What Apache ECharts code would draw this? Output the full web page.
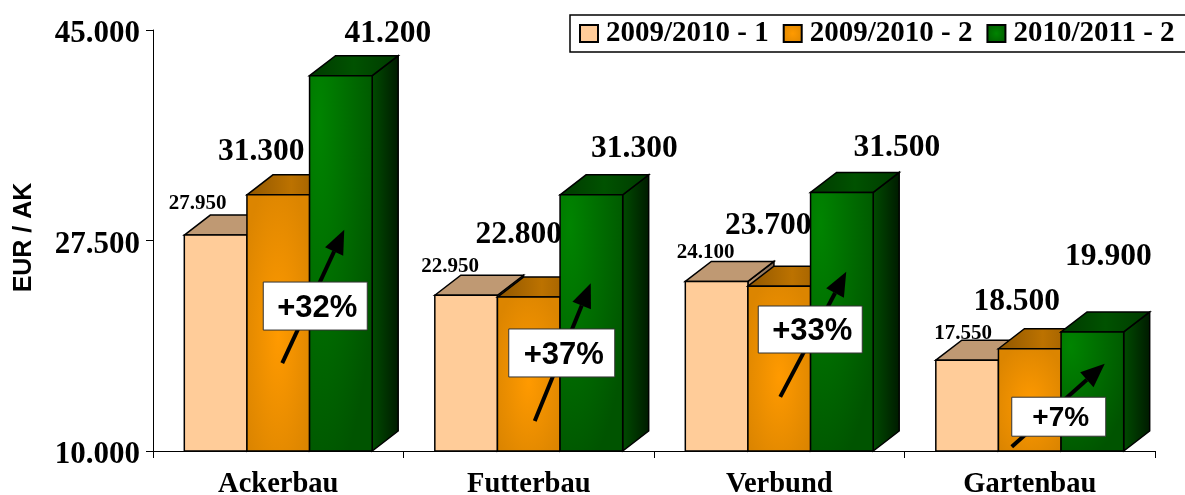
<!DOCTYPE html>
<html>
<head>
    <meta charset="utf-8">
    <title>EUR / AK</title>
    <script src="https://cdn.jsdelivr.net/npm/echarts@6/dist/echarts.min.js"></script>
    <style>
        html, body { margin: 0; padding: 0; background: #fff; }
        #chart { width: 1185px; height: 495px; }
    </style>
</head>
<body>
<div id="chart"></div>
<script>
    // data
    var categories = ['Ackerbau', 'Futterbau', 'Verbund', 'Gartenbau'];
    var yTicks = [10000, 27500, 45000];
    var seriesNames = ['2009/2010 - 1', '2009/2010 - 2', '2010/2011 - 2'];
    var values1 = [27950, 22950, 24100, 17550];
    var values2 = [31300, 22800, 23700, 18500];
    var values3 = [41200, 31300, 31500, 19900];

    // growth callouts: text, arrow start / tip and box centre on the value axis
    var growthLabels = ['+32%', '+37%', '+33%', '+7%'];
    var arrowFrom = [17300, 12500, 14500, 10350];
    var arrowTo = [28400, 23950, 24900, 17250];
    var boxValue = [22050, 18150, 20100, 12850];

    // layout tweaks, px relative to the bar or the category centre
    var labelShift = [
        [[-18, 32], [-16, 29], [-11, 29], [-4, 27]],
        [[-17, 43], [-10, 62], [-11, 60], [-13, 47]],
        [[47, 42], [43, 46], [55, 45], [16, 75]]
    ];
    var labelSize = [21, 31.5, 31.5];
    var arrowX = [[4, 66], [6, 62], [1, 67], [-18, 75]];
    var boxX = [37, 33, 31, 29];
    var boxSize = [[104, 48], [106, 48], [104, 47], [94, 39]];
    var boxFont = [31, 31, 31, 28];

    var depthX = 26, depthY = 20;
    var serif = '"Liberation Serif"', sans = '"Liberation Sans"';

    function radial(x, y, r, inner, outer) {
        return { type: 'radial', x: x, y: y, r: r, colorStops: [{ offset: 0, color: inner }, { offset: 1, color: outer }] };
    }
    function linear(stops) {
        var list = stops.map(function (c, i) { return { offset: i / (stops.length - 1), color: c }; });
        return { type: 'linear', x: 0, y: 0, x2: 1, y2: 0, colorStops: list };
    }

    var fronts = [
        '#FFCC99',
        radial(0.5, 0.55, 0.62, '#FF9A00', '#DC8500'),
        radial(0.15, 0.12, 1.0, '#008400', '#005400')
    ];
    var tops = [
        '#BF9973',
        linear(['#8F5600', '#BC7200', '#8F5600']),
        linear(['#003A00', '#005200', '#003A00'])
    ];
    var sides = [
        linear(['#BF9973', '#7F6650']),
        linear(['#8F5600', '#4F2F00']),
        linear(['#004C00', '#001A00'])
    ];
    var swatches = [
        '#FFCC99',
        radial(0.5, 0.5, 0.7, '#FF9A00', '#DC8500'),
        radial(0.5, 0.5, 0.7, '#008400', '#005400')
    ];

    function face(points, fill) {
        return {
            type: 'polygon',
            shape: { points: points },
            style: { fill: fill, stroke: '#000', lineWidth: 1.5 }
        };
    }

    function formatNumber(v) {
        return String(v).replace(/(\d)(\d{3})$/, '$1.$2');
    }

    function barRenderer(s) {
        return function (params, api) {
            var i = params.dataIndex;
            var value = api.value(1);
            var centre = api.coord([api.value(0), value]);
            var base = api.coord([api.value(0), yTicks[0]]);
            var w = api.size([1, 0])[0] * 0.25;
            var x = centre[0] + (s - 1) * w - w / 2;
            var y = centre[1];
            var h = base[1] - y;
            var shift = labelShift[s][i];
            return {
                type: 'group',
                children: [
                    face([[x + w, y], [x + w + depthX, y - depthY], [x + w + depthX, base[1] - depthY], [x + w, base[1]]], sides[s]),
                    face([[x, y], [x + depthX, y - depthY], [x + w + depthX, y - depthY], [x + w, y]], tops[s]),
                    // square scaled to bar height, so the gradient stretches with it
                    {
                        type: 'rect',
                        x: x,
                        y: y,
                        scaleY: h / w,
                        shape: { x: 0, y: 0, width: w, height: w },
                        style: { fill: fronts[s] }
                    },
                    {
                        type: 'rect',
                        shape: { x: x, y: y, width: w, height: h },
                        style: { fill: 'none', stroke: '#000', lineWidth: 1.5 }
                    },
                    {
                        type: 'text',
                        x: x + w / 2 + shift[0],
                        y: y - shift[1],
                        style: {
                            text: formatNumber(value),
                            fontFamily: serif,
                            fontWeight: 'bold',
                            fontSize: labelSize[s],
                            fill: '#000',
                            align: 'center',
                            verticalAlign: 'middle'
                        }
                    }
                ]
            };
        };
    }

    function calloutRenderer(params, api) {
        var i = params.dataIndex;
        var cx = api.coord([i, yTicks[0]])[0];
        var x1 = cx + arrowX[i][0], y1 = api.coord([i, arrowFrom[i]])[1];
        var x2 = cx + arrowX[i][1], y2 = api.coord([i, arrowTo[i]])[1];
        var len = Math.sqrt((x2 - x1) * (x2 - x1) + (y2 - y1) * (y2 - y1));
        var ux = (x2 - x1) / len, uy = (y2 - y1) / len;
        var headLen = 24, headHalf = 10;
        var hx = x2 - ux * headLen, hy = y2 - uy * headLen;
        var by = api.coord([i, boxValue[i]])[1];
        var bw = boxSize[i][0], bh = boxSize[i][1];
        return {
            type: 'group',
            children: [
                {
                    type: 'line',
                    shape: { x1: x1, y1: y1, x2: hx, y2: hy },
                    style: { stroke: '#000', lineWidth: 4 }
                },
                {
                    type: 'polygon',
                    shape: { points: [[x2, y2], [hx - uy * headHalf, hy + ux * headHalf], [hx + uy * headHalf, hy - ux * headHalf]] },
                    style: { fill: '#000' }
                },
                {
                    type: 'rect',
                    shape: { x: cx + boxX[i] - bw / 2, y: by - bh / 2, width: bw, height: bh },
                    style: { fill: '#fff', stroke: '#333', lineWidth: 1 }
                },
                {
                    type: 'text',
                    x: cx + boxX[i] + 2,
                    y: by + 2,
                    style: {
                        text: growthLabels[i],
                        fontFamily: sans,
                        fontWeight: 'bold',
                        fontSize: boxFont[i],
                        fill: '#000',
                        align: 'center',
                        verticalAlign: 'middle'
                    }
                }
            ]
        };
    }

    function barSeries(s, values) {
        return {
            name: seriesNames[s],
            type: 'custom',
            renderItem: barRenderer(s),
            encode: { x: 0, y: 1 },
            clip: false,
            silent: true,
            itemStyle: { color: swatches[s], borderColor: '#000', borderWidth: 1 },
            data: values.map(function (v, i) { return [i, v]; })
        };
    }

    var chart = echarts.init(document.getElementById('chart'), null, { renderer: 'canvas' });
    chart.setOption({
        animation: false,
        backgroundColor: '#fff',
        grid: { left: 153, top: 30, width: 1002, height: 421, outerBoundsMode: 'none' },
        legend: {
            left: 570,
            top: 15,
            width: 700,
            orient: 'horizontal',
            data: seriesNames,
            icon: 'rect',
            itemWidth: 18,
            itemHeight: 17,
            itemGap: 14,
            padding: [4, 20, 4, 9],
            borderColor: '#000',
            borderWidth: 1.5,
            backgroundColor: '#fff',
            textStyle: { fontFamily: serif, fontWeight: 'bold', fontSize: 29, color: '#000', padding: [4, 0, 0, 3] }
        },
        xAxis: {
            type: 'category',
            data: categories,
            axisLine: { lineStyle: { color: '#000', width: 1 } },
            axisTick: { show: true, length: 7, lineStyle: { color: '#000' } },
            axisLabel: { margin: 19, interval: 0, fontFamily: serif, fontWeight: 'bold', fontSize: 28.5, color: '#000' }
        },
        yAxis: {
            type: 'value',
            min: yTicks[0],
            max: yTicks[yTicks.length - 1],
            name: 'EUR / AK',
            nameLocation: 'middle',
            nameGap: 116,
            nameRotate: 90,
            nameTextStyle: { fontFamily: sans, fontWeight: 'bold', fontSize: 25, color: '#000', padding: [0, 0, 0, 6] },
            axisLine: { show: true, lineStyle: { color: '#000', width: 1 } },
            axisTick: { show: true, length: 7, customValues: yTicks, lineStyle: { color: '#000' } },
            axisLabel: {
                margin: 13,
                customValues: yTicks,
                formatter: function (v) { return '{n|' + formatNumber(v) + '}'; },
                rich: {
                    n: { fontFamily: serif, fontWeight: 'bold', fontSize: 31, color: '#000', padding: [8, 0, 0, 0] }
                }
            },
            splitLine: { show: false }
        },
        series: [
            barSeries(0, values1),
            barSeries(1, values2),
            barSeries(2, values3),
            {
                name: 'growth',
                type: 'custom',
                renderItem: calloutRenderer,
                encode: { x: 0, y: 1 },
                clip: false,
                silent: true,
                data: growthLabels.map(function (t, i) { return [i, boxValue[i]]; })
            }
        ]
    });
</script>
</body>
</html>
